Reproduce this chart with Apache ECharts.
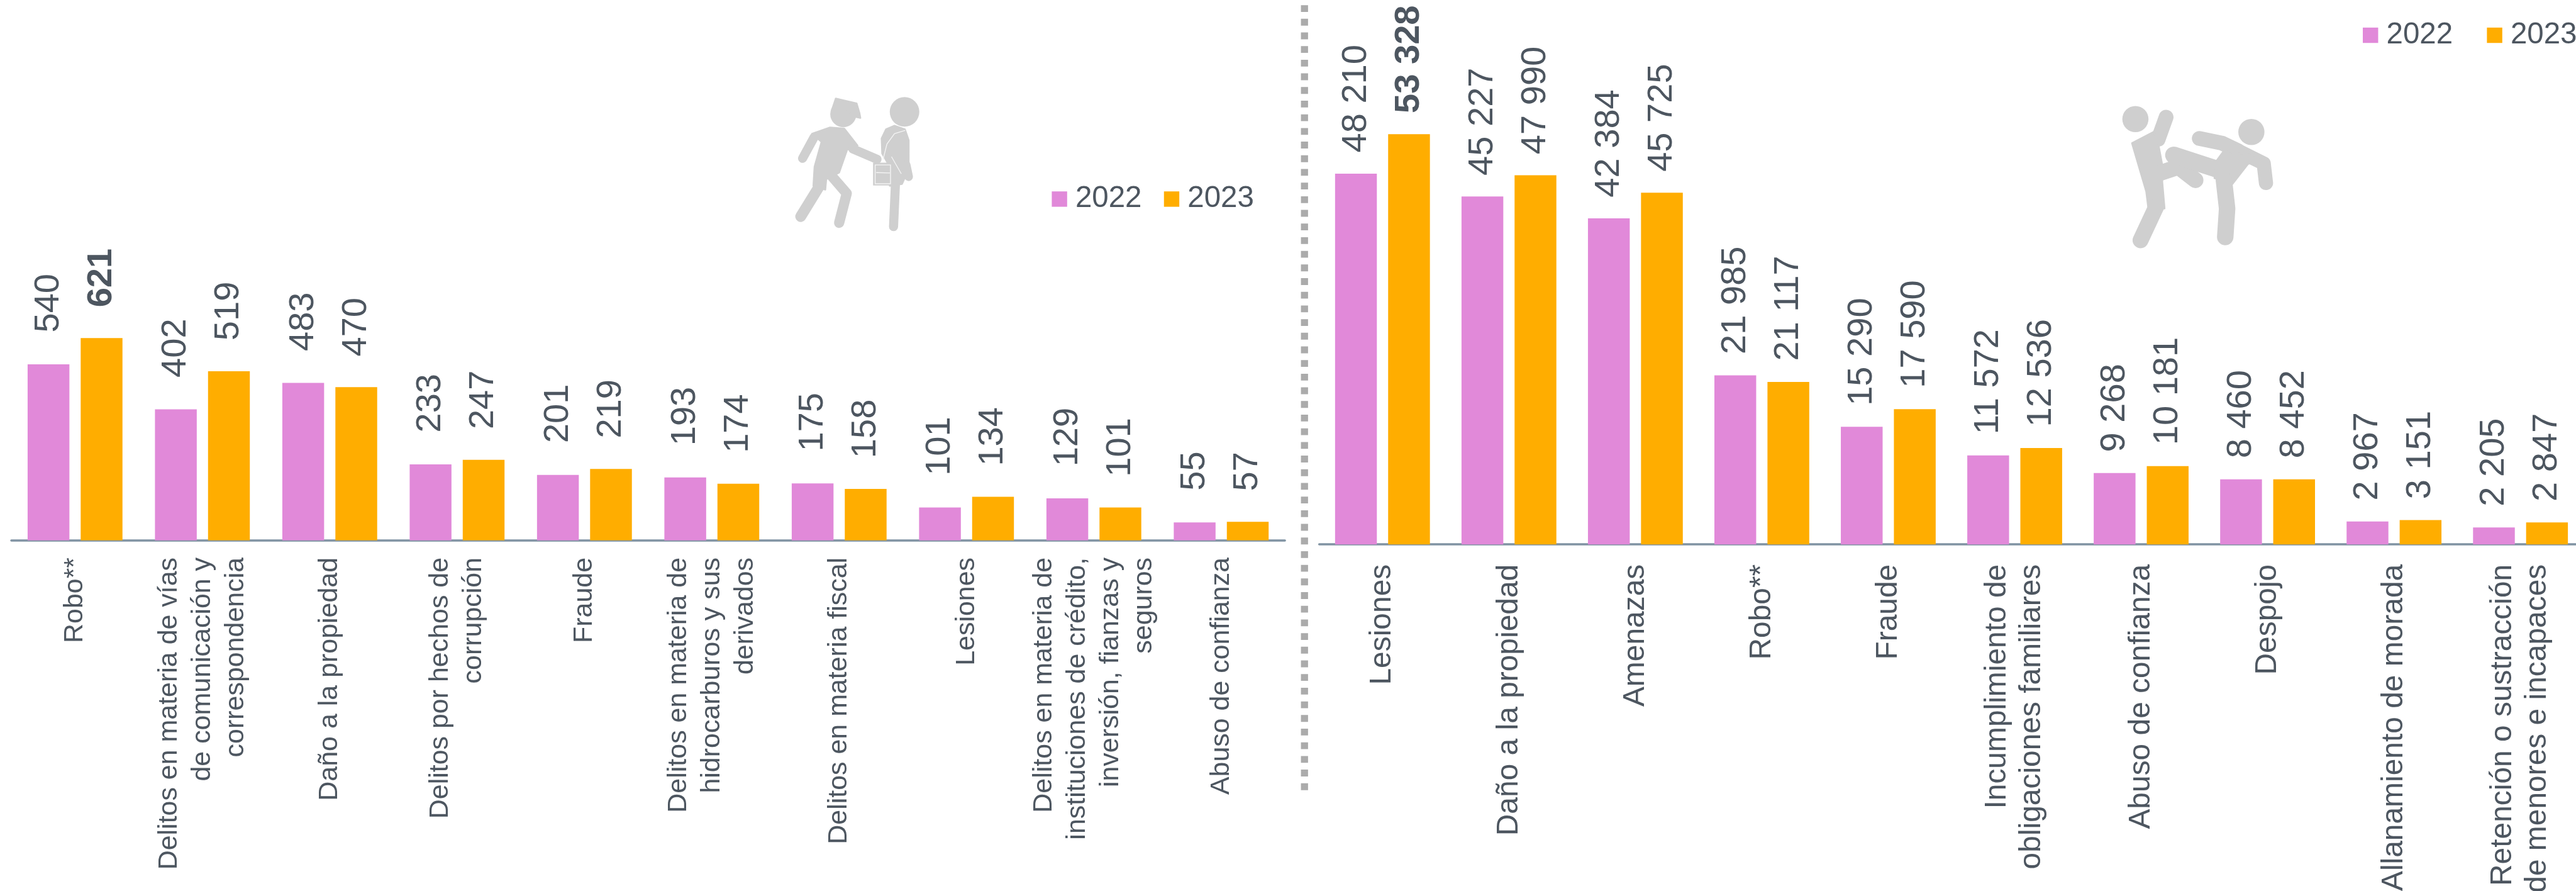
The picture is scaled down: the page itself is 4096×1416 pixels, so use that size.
<!DOCTYPE html>
<html><head><meta charset="utf-8">
<style>html,body{margin:0;padding:0;background:#fff}#c{width:4096px;height:1416px}</style>
<script src="https://cdn.jsdelivr.net/npm/echarts@6/dist/echarts.min.js"></script>
</head><body><div id="c"></div>
<script>
const yearA = '2022';
const yearB = '2023';
const leftCategories = ['Robo**','Delitos en materia de vías\nde comunicación y\ncorrespondencia','Daño a la propiedad','Delitos por hechos de\ncorrupción','Fraude','Delitos en materia de\nhidrocarburos y sus\nderivados','Delitos en materia fiscal','Lesiones','Delitos en materia de\ninstituciones de crédito,\ninversión, fianzas y\nseguros','Abuso de confianza'];
const left2022 = [540,402,483,233,201,193,175,101,129,55];
const left2023 = [621,519,470,247,219,174,158,134,101,57];
const rightCategories = ['Lesiones','Daño a la propiedad','Amenazas','Robo**','Fraude','Incumplimiento de\nobligaciones familiares','Abuso de confianza','Despojo','Allanamiento de morada','Retención o sustracción\nde menores e incapaces'];
const right2022 = [48210,45227,42384,21985,15290,11572,9268,8460,2967,2205];
const right2023 = [53328,47990,45725,21117,17590,12536,10181,8452,3151,2847];

const k = 0.904, S = v => v * k;
const PINK = '#E189D9', ORANGE = '#FFAD00', TEXT = '#4D5660', AXIS = '#8093A3', ICON = '#CFCFCF';
const fmt = v => String(v).replace(/\B(?=(\d{3})+$)/g, ' ');

function items(arr, boldValue) {
  return arr.map(v => v === boldValue ? {value: v, label: {fontWeight: 'bold'}} : v);
}
function barSeries(name, color, data, idx, dist) {
  return {
    name, type: 'bar', xAxisIndex: idx, yAxisIndex: idx, data,
    barWidth: S(73.5), barGap: '27%', itemStyle: {color},
    animation: false,
    label: {show: true, position: 'top', rotate: 90, align: 'left', verticalAlign: 'middle',
      distance: S(dist), fontFamily: 'Liberation Sans', fontSize: S(62), color: TEXT,
      padding: [6, 0, 0, 0],
      formatter: p => fmt(p.value)}
  };
}
function xAxis(cats, idx, size, lh, margin) {
  return {type: 'category', gridIndex: idx, data: cats, axisTick: {show: false},
    axisLine: {lineStyle: {color: AXIS, width: S(4)}},
    axisLabel: {interval: 0, rotate: 90, margin: S(margin), fontFamily: 'Liberation Sans',
      fontSize: S(size), lineHeight: S(lh), color: TEXT, hideOverlap: false, padding: [7, 0, 0, 0]}};
}
function yAxis(idx, max) {
  return {type: 'value', gridIndex: idx, min: 0, max, show: false, splitLine: {show: false}};
}
function legend(left, top, gap) {
  return {data: [yearA, yearB], left: S(left), top: S(top), width: S(500), orient: 'horizontal', padding: 0,
    itemWidth: S(27), itemHeight: S(27), itemGap: S(gap),
    textStyle: {fontFamily: 'Liberation Sans', fontSize: S(52.5), color: TEXT, padding: [0, 0, 0, S(9)]},
    icon: 'rect', selectedMode: false};
}
function stroke(points, w) {
  return {type: 'polyline', shape: {points},
    style: {stroke: ICON, lineWidth: w, lineCap: 'round', lineJoin: 'round', fill: null}, silent: true};
}
function white(points, w) {
  return {type: 'polyline', shape: {points},
    style: {stroke: '#F4F4F4', lineWidth: w, lineCap: 'round', lineJoin: 'round', fill: null}, silent: true};
}
function poly(points) {
  return {type: 'polygon', shape: {points}, style: {fill: ICON, stroke: ICON, lineWidth: 3, lineJoin: 'round'}, silent: true};
}
function circ(c, r) {
  return {type: 'circle', shape: {cx: c[0], cy: c[1], r}, style: {fill: ICON}, silent: true};
}
const zP = (x, y) => [1300 + x / 3, 130 + y / 3];   // thief, reference px
const zV = (x, y) => [1530 + x / 3, 190 + y / 3];   // victim, reference px
const zK = (x, y) => [3650 + x / 3, 150 + y / 3];   // kick, reference px

const thief = {type: 'group', scaleX: k, scaleY: k, children: [
  circ(zP(550,212), 23),
  poly([zP(490,190), zP(510,130), zP(620,155), zP(635,205), zP(640,232), zP(610,225), zP(560,190)]),
  poly([zP(385,315), zP(480,282), zP(555,288), zP(625,378), zP(570,400), zP(528,520), zP(460,555), zP(455,610), zP(392,590), zP(398,490), zP(435,358)]),
  stroke([zP(395,335), zP(335,445)], 16),
  stroke([zP(600,395), zP(728,450)], 16),
  stroke([zP(425,590), zP(325,752)], 19),
  stroke([zP(490,540), zP(568,630), zP(528,785)], 18),
  // victim
  circ(zV(183,20), 26),
  poly([zV(62,160), zV(85,112), zV(130,93), zV(185,112), zV(205,170), zV(205,320), zV(170,400), zV(105,410), zV(100,300), zV(65,240)]),
  stroke([zV(135,400), zV(125,625)], 16),
  stroke([zV(192,300), zV(205,362)], 15),
  white([zV(185,118), zV(130,135), zV(90,190), zV(70,270)], 1.5),
  white([zV(115,258), zV(165,345)], 1.5),
  {type: 'rect', shape: {x: zV(17,0)[0], y: zV(0,288)[1], width: 33, height: 40}, style: {fill: ICON}, silent: true},
  {type: 'rect', shape: {x: zV(28,0)[0], y: zV(0,300)[1], width: 27, height: 33}, style: {fill: ICON, stroke: '#F4F4F4', lineWidth: 1.5}, silent: true},
  white([zV(35,340), zV(105,342)], 1.5)
]};
const kick = {type: 'group', scaleX: k, scaleY: k, children: [
  circ(zK(318,178), 23),
  circ(zK(930,246), 23),
  stroke([zK(480,168), zK(438,285)], 26),
  poly([zK(300,305), zK(415,245), zK(440,315), zK(458,410), zK(460,510), zK(472,650), zK(385,640), zK(375,560)]),
  stroke([zK(428,640), zK(345,817)], 28),
  stroke([zK(450,462), zK(545,430), zK(635,500)], 28),
  stroke([zK(520,368), zK(780,452)], 30),
  stroke([zK(655,280), zK(775,305), zK(860,345)], 26),
  stroke([zK(860,345), zK(995,412), zK(1007,515)], 25),
  poly([zK(745,400), zK(785,345), zK(1000,380), zK(912,415), zK(830,520), zK(735,490)]),
  stroke([zK(785,500), zK(802,650), zK(792,800)], 29)
]};
const divider = {type: 'line', shape: {x1: S(2294.5), y1: S(-15), x2: S(2294.5), y2: S(1389)},
  style: {stroke: '#ABABAB', lineWidth: S(12.5), lineDash: [S(12), S(12)]}, silent: true};

const chart = echarts.init(document.getElementById('c'), null, {renderer: 'canvas'});
chart.setOption({
  backgroundColor: '#fff', animation: false,
  legend: [legend(1850, 324, 39), legend(4156, 36, 60)],
  grid: [
    {left: S(20), top: S(950 - 573), width: S(2240), height: S(573), outerBoundsMode: 'none'},
    {left: S(2320.5), top: S(957 - 811.2), width: S(2224), height: S(811.2), outerBoundsMode: 'none'}
  ],
  xAxis: [xAxis(leftCategories, 0, 47.5, 58.6, 30), xAxis(rightCategories, 1, 53, 61, 35)],
  yAxis: [yAxis(0, 1000), yAxis(1, 60000)],
  series: [
    barSeries(yearA, PINK, items(left2022), 0, 56),
    barSeries(yearB, ORANGE, items(left2023, 621), 0, 54),
    barSeries(yearA, PINK, items(right2022), 1, 37),
    barSeries(yearB, ORANGE, items(right2023, 53328), 1, 37)
  ],
  graphic: {elements: [divider, thief, kick]}
});
</script></body></html>
